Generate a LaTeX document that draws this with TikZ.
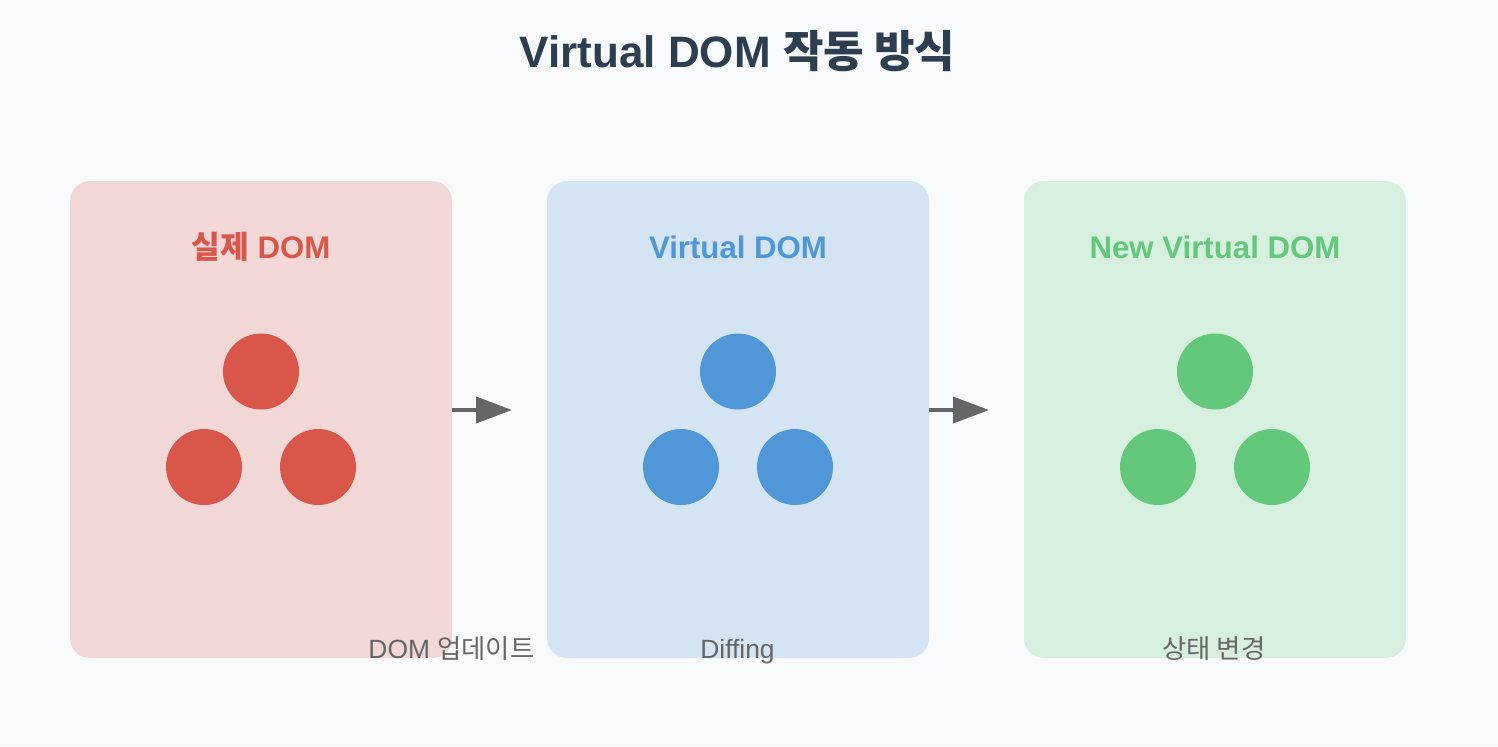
\documentclass[tikz,border=0pt]{standalone}
\usepackage{fontspec}
\setmainfont{Liberation Sans}
\newfontfamily\krfont{Noto Sans CJK KR}
\usetikzlibrary{arrows.meta}
\definecolor{bgc}{HTML}{F8F9FA}
\definecolor{titlec}{HTML}{2C3E50}
\definecolor{labelc}{HTML}{666666}
\definecolor{realc}{HTML}{D9574A}
\definecolor{virtc}{HTML}{4F97D6}
\definecolor{newc}{HTML}{64C87A}
\definecolor{realbg}{HTML}{F2D7D7}
\definecolor{virtbg}{HTML}{D4E4F2}
\definecolor{newbg}{HTML}{D7EFDF}

\tikzset{
  panel/.style={rounded corners=15pt, minimum width=286.5pt, minimum height=357.75pt, inner sep=0pt},
  panelhead/.style={font=\fontsize{23.4}{28}\selectfont\bfseries, anchor=base},
  steplabel/.style={labelc, font=\fontsize{19.8}{24}\selectfont, anchor=base},
  domnode/.style={circle, minimum size=57pt, inner sep=0pt}
}

\begin{document}
\begin{tikzpicture}[x=0.75pt, y=-0.75pt, >={Triangle[length=27pt, width=19.5pt]}]
  % page frame + background
  \useasboundingbox (0,0) rectangle (1498,746);
  \fill[bgc] (0,0) rectangle (1498,746);

  % title
  \node[titlec, font=\fontsize{33}{40}\selectfont\bfseries, anchor=base] (title) at (737.5,67) {Virtual DOM {\krfont 작동 방식}};

  % three panels: real DOM -> virtual DOM -> new virtual DOM
  \node[panel, fill=realbg] (real) at (261,419.5) {};
  \node[panel, fill=virtbg] (virt) at (738,419.5) {};
  \node[panel, fill=newbg]  (new)  at (1215,419.5) {};

  \node[panelhead, realc] (realhead) at (261,258.5)  {{\krfont 실제} DOM};
  \node[panelhead, virtc] (virthead) at (738,258.5)  {Virtual DOM};
  \node[panelhead, newc]  (newhead)  at (1215,258.5) {New Virtual DOM};

  % tree of three nodes in every panel
  \foreach \n/\cx/\col in {real/261/realc, virt/738/virtc, new/1215/newc}{
    \node[domnode, fill=\col] (\n-top)   at (\cx,371.5)    {};
    \node[domnode, fill=\col] (\n-left)  at (\cx-57,467)   {};
    \node[domnode, fill=\col] (\n-right) at (\cx+57,467)   {};
  }

  % step labels (the first one sits on the panel edge)
  \node[steplabel] (updlabel)  at (451.5,658) {DOM {\krfont 업데이트}};
  \node[steplabel] (difflabel) at (737.5,658) {Diffing};
  \node[steplabel] (statelabel) at (1214,658) {\krfont 상태 변경};

  % arrows between panels
  \coordinate (arr1s) at (452,410);
  \coordinate (arr1e) at (512,410);
  \coordinate (arr2s) at (929,410);
  \coordinate (arr2e) at (989,410);
  \draw[->, labelc, line width=3pt] (arr1s) -- (arr1e);
  \draw[->, labelc, line width=3pt] (arr2s) -- (arr2e);

\end{tikzpicture}
\end{document}
